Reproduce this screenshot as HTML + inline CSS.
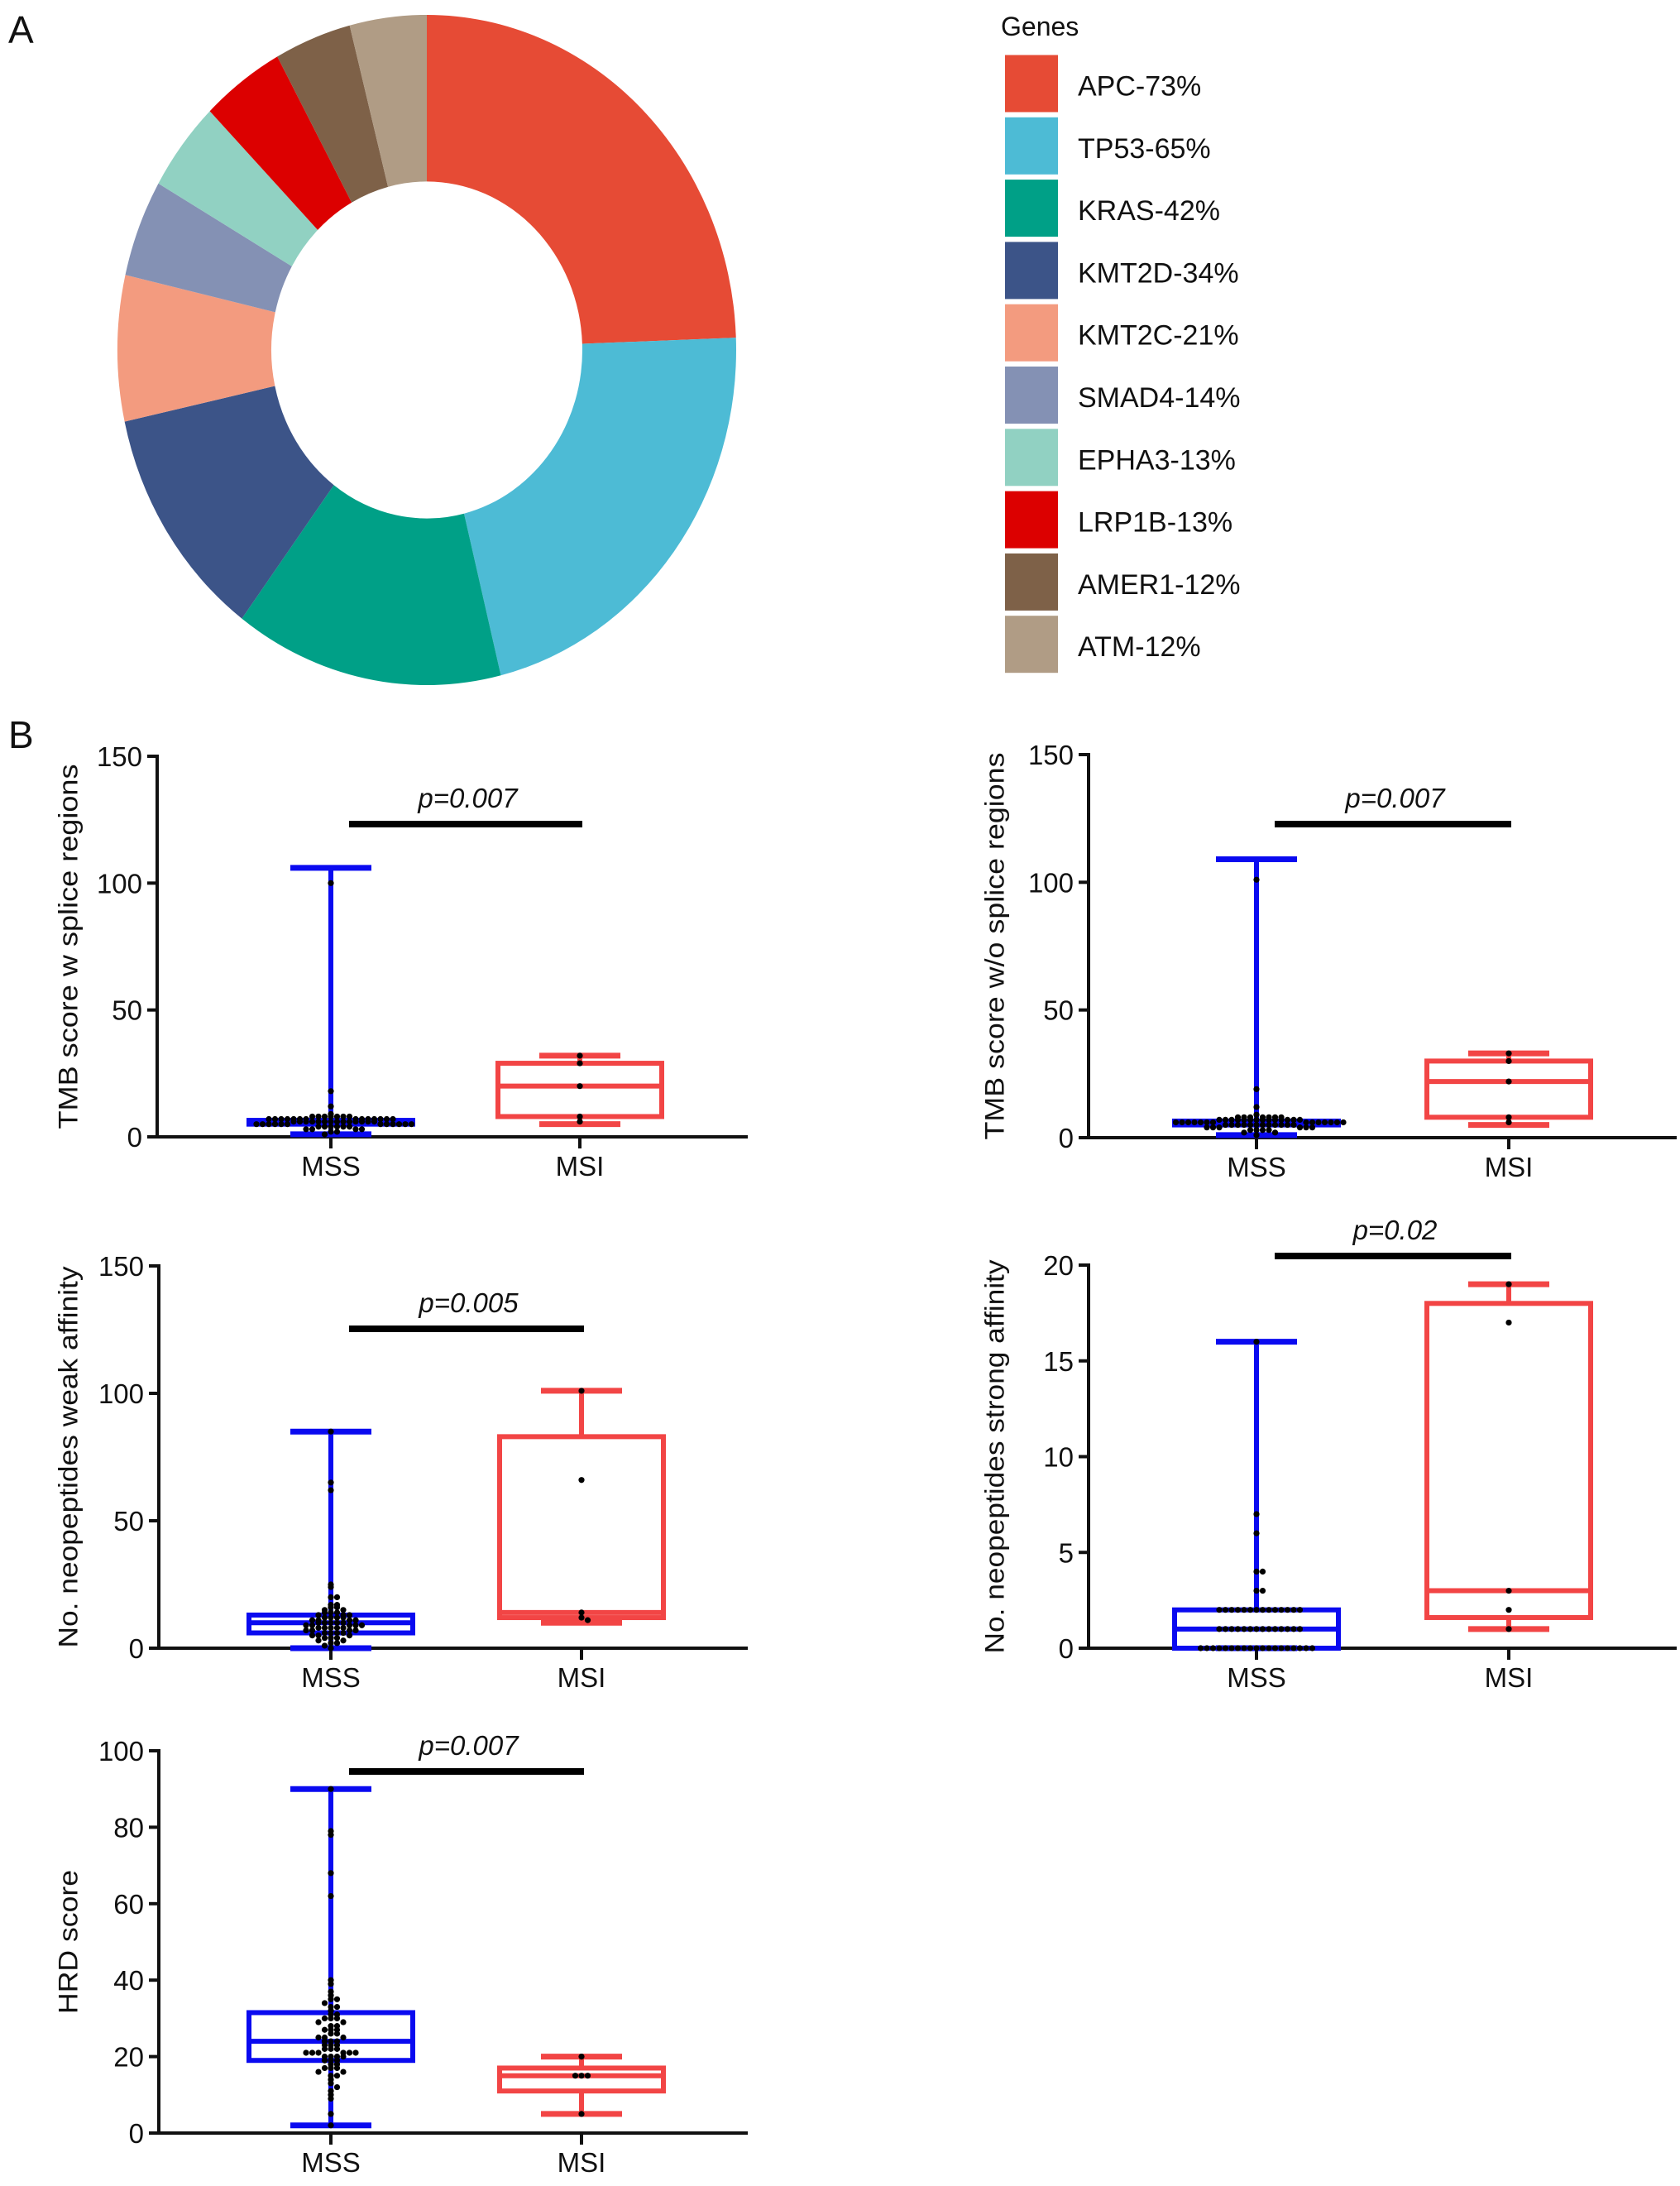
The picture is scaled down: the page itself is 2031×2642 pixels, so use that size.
<!DOCTYPE html>
<html><head><meta charset="utf-8"><style>
html,body{margin:0;padding:0;background:#fff}
svg{display:block}
text{font-family:"Liberation Sans",Arial,sans-serif;fill:#111}
</style></head><body>
<svg id="fig" width="2031" height="2642" viewBox="0 0 2031 2642" xmlns="http://www.w3.org/2000/svg">
<text x="10" y="52" font-size="46">A</text>
<text x="10" y="904" font-size="46">B</text>
<g id="donut"></g>
<g id="legend">
<text x="1210" y="43" font-size="32">Genes</text>
</g>
<g id="plots"></g>
</svg>
<script>
// ---------- Donut data ----------
const geneNames = ["APC","TP53","KRAS","KMT2D","KMT2C","SMAD4","EPHA3","LRP1B","AMER1","ATM"];
const genePct = [73,65,42,34,21,14,13,13,12,12];
const geneColors = ["#E64B35","#4DBBD5","#00A087","#3C5488","#F39B7F","#8491B4","#91D1C2","#DC0000","#7E6148","#B09C85"];

// ---------- Box plot data: [min, q1, median, q3, max] ----------
const tmbW_MSS_stats = [1, 5, 6, 6.5, 106];
const tmbW_MSI_stats = [5, 8, 20, 29, 32];
const tmbW_MSS_pts = [100,18,12,9,8,8,8,8,8,8,8,7,7,7,7,7,7,7,7,7,7,7,7,7,7,6,6,6,6,6,6,6,6,6,6,6,6,6,6,5,5,5,5,5,5,5,5,5,5,5,5,4,4,4,4,4,4,3,3,3,3,2,2,1];
const tmbW_MSI_pts = [32,29,20,8,6];

const tmbWo_MSS_stats = [1, 5, 6, 6.5, 109];
const tmbWo_MSI_stats = [5, 8, 22, 30, 33];
const tmbWo_MSS_pts = [101,19,12,9,8,8,8,8,8,8,8,7,7,7,7,7,7,7,7,7,7,7,7,7,7,6,6,6,6,6,6,6,6,6,6,6,6,6,6,5,5,5,5,5,5,5,5,5,5,5,5,4,4,4,4,4,4,3,3,3,3,2,2,1];
const tmbWo_MSI_pts = [33,30,22,8,6];

const weak_MSS_stats = [0, 6, 10, 13, 85];
const weak_MSI_stats = [10, 12, 14, 83, 101];
const weak_MSS_pts = [85,65,62,25,24,20,20,17,17,16,16,15,15,14,14,14,13,13,13,12,12,12,12,11,11,11,11,10,10,10,10,10,9,9,9,9,9,8,8,8,8,8,7,7,7,7,6,6,6,6,5,5,5,4,4,4,3,3,2,2,1,0];
const weak_MSI_pts = [101,66,14,12,11];

const strong_MSS_stats = [0, 0, 1, 2, 16];
const strong_MSI_stats = [1, 1.6, 3, 18, 19];
const strong_MSS_pts = [16,7,6,4,4,3,3,2,2,2,2,2,2,2,2,2,2,2,2,2,2,1,1,1,1,1,1,1,1,1,1,1,1,1,1,0,0,0,0,0,0,0,0,0,0,0,0,0,0,0,0,0,0,0];
const strong_MSI_pts = [19,17,3,2,1];

const hrd_MSS_stats = [2, 19, 24, 31.5, 90];
const hrd_MSI_stats = [5, 11, 15, 17, 20];
const hrd_MSS_pts = [90,79,78,68,62,40,39,37,36,35,35,34,33,33,32,31,31,30,30,30,29,29,28,28,27,27,27,26,26,25,25,25,24,24,24,23,23,23,22,22,22,21,21,21,21,21,21,20,20,20,20,19,19,19,18,18,17,17,17,16,16,15,15,14,13,12,11,10,9,5,2];
const hrd_MSI_pts = [20,15,15,15,5];

const groupLabels = ["MSS","MSI"];
const pLabels = ["p=0.007","p=0.007","p=0.005","p=0.02","p=0.007"];
const yTicks150 = [0,50,100,150];
const yTicks20 = [0,5,10,15,20];
const yTicks100 = [0,20,40,60,80,100];

const NS="http://www.w3.org/2000/svg";
function mk(tag, attrs, parent){const e=document.createElementNS(NS,tag);for(const k in attrs)e.setAttribute(k,attrs[k]);parent.appendChild(e);return e;}

// ---------- Donut ----------
(function(){
  const g=document.getElementById('donut');
  const cx=516, cy=423, R=374, r=188, sy=1.083;
  const inner=mk('g',{transform:`translate(${cx},${cy}) scale(1,${sy})`},g);
  const total=genePct.reduce((a,b)=>a+b,0);
  let a0=-Math.PI/2;
  genePct.forEach((v,i)=>{
    const a1=a0+v/total*2*Math.PI;
    const large=(a1-a0)>Math.PI?1:0;
    const p=`M${R*Math.cos(a0)},${R*Math.sin(a0)} A${R},${R} 0 ${large} 1 ${R*Math.cos(a1)},${R*Math.sin(a1)} L${r*Math.cos(a1)},${r*Math.sin(a1)} A${r},${r} 0 ${large} 0 ${r*Math.cos(a0)},${r*Math.sin(a0)} Z`;
    const s=mk('path',{d:p,fill:geneColors[i]},inner);
    
    
    a0=a1;
  });
  const lg=document.getElementById('legend');
  geneNames.forEach((n,i)=>{
    const top=66.5+i*75.3;
    const rc=mk('rect',{x:1215,y:top,width:64,height:69,fill:geneColors[i]},lg);
    
    
    const t=mk('text',{x:1303,y:top+49,'font-size':34},lg);
    t.textContent=n+'-'+genePct[i]+'%';
    
    
  });
})();

// ---------- Box plots ----------
const panels=[
 {ax:190,y0:1374,yTop:914,vmax:150,ticks:yTicks150,title:"TMB score w splice regions",tx:85,tlen:441,
  xE:904,gx:[400,701],stats:[tmbW_MSS_stats,tmbW_MSI_stats],pts:[tmbW_MSS_pts,tmbW_MSI_pts],p:pLabels[0],py:996,name:"tmb-w-splice"},
 {ax:1316,y0:1375,yTop:912,vmax:150,ticks:yTicks150,title:"TMB score w/o splice regions",tx:1205,tlen:468,
  xE:2027,gx:[1519,1824],stats:[tmbWo_MSS_stats,tmbWo_MSI_stats],pts:[tmbWo_MSS_pts,tmbWo_MSI_pts],p:pLabels[1],py:996,name:"tmb-wo-splice"},
 {ax:192,y0:1992,yTop:1530,vmax:150,ticks:yTicks150,title:"No. neopeptides weak affinity",tx:85,tlen:461,
  xE:904,gx:[400,703],stats:[weak_MSS_stats,weak_MSI_stats],pts:[weak_MSS_pts,weak_MSI_pts],p:pLabels[2],py:1606,name:"weak-affinity"},
 {ax:1316,y0:1992,yTop:1529,vmax:20,ticks:yTicks20,title:"No. neopeptides strong affinity",tx:1205,tlen:476,
  xE:2027,gx:[1519,1824],stats:[strong_MSS_stats,strong_MSI_stats],pts:[strong_MSS_pts,strong_MSI_pts],p:pLabels[3],py:1518,name:"strong-affinity"},
 {ax:192,y0:2578,yTop:2116,vmax:100,ticks:yTicks100,title:"HRD score",tx:85,tlen:174,
  xE:904,gx:[400,703],stats:[hrd_MSS_stats,hrd_MSI_stats],pts:[hrd_MSS_pts,hrd_MSI_pts],p:pLabels[4],py:2141,name:"hrd-score"}
];
const groupColors=["#0A0AF0","#F24545"];
const root=document.getElementById('plots');
panels.forEach(P=>{
  const g=mk('g',{},root);
  
  
  const Y=v=>P.y0-v/P.vmax*(P.y0-P.yTop);
  const ya=mk('line',{x1:P.ax,y1:P.yTop-2,x2:P.ax,y2:P.y0+2,stroke:'#111','stroke-width':4},g);
   
  const xa=mk('line',{x1:P.ax-12,y1:P.y0,x2:P.xE,y2:P.y0,stroke:'#111','stroke-width':4},g);
   
  P.ticks.forEach(t=>{
    mk('line',{x1:P.ax-12,y1:Y(t),x2:P.ax,y2:Y(t),stroke:'#111','stroke-width':4},g);
    const tl=mk('text',{x:P.ax-18,y:Y(t)+12,'font-size':33,'text-anchor':'end'},g);
    tl.textContent=t;
     
  });
  const yt=mk('text',{x:P.tx,y:(P.y0+P.yTop)/2,'font-size':32,'text-anchor':'middle',transform:`rotate(-90 ${P.tx} ${(P.y0+P.yTop)/2})`,'dominant-baseline':'middle',textLength:P.tlen,lengthAdjust:'spacingAndGlyphs'},g);
  yt.textContent=P.title;
   
  [0,1].forEach(k=>{
    const x=P.gx[k], s=P.stats[k], c=groupColors[k];
    mk('line',{x1:x,y1:P.y0,x2:x,y2:P.y0+14,stroke:'#111','stroke-width':4},g);
    const xl=mk('text',{x:x,y:P.y0+47,'font-size':33,'text-anchor':'middle'},g);
    xl.textContent=groupLabels[k];
     
    const bg=mk('g',{},g);
     
    mk('line',{x1:x,y1:Y(s[0]),x2:x,y2:Y(s[1]),stroke:c,'stroke-width':6},bg);
    mk('line',{x1:x,y1:Y(s[3]),x2:x,y2:Y(s[4]),stroke:c,'stroke-width':6},bg);
    mk('line',{x1:x-49,y1:Y(s[0]),x2:x+49,y2:Y(s[0]),stroke:c,'stroke-width':7},bg);
    mk('line',{x1:x-49,y1:Y(s[4]),x2:x+49,y2:Y(s[4]),stroke:c,'stroke-width':7},bg);
    const h=Math.max(Y(s[1])-Y(s[3]),1);
    mk('rect',{x:x-99,y:Y(s[3]),width:198,height:h,fill:'none',stroke:c,'stroke-width':6},bg);
    mk('line',{x1:x-99,y1:Y(s[2]),x2:x+99,y2:Y(s[2]),stroke:c,'stroke-width':6},bg);
    const bins={};
    P.pts[k].forEach(v=>{
      const py=Y(v); const b=Math.round(py/6);
      const n=bins[b]||0; bins[b]=n+1;
      const off=(n===0?0:(n%2?1:-1)*Math.ceil(n/2)*7.5);
      const d=mk('circle',{cx:x+off,cy:py,r:3.6,fill:'#000'},g);
       
    });
  });
  const pb=mk('line',{x1:P.gx[0]+22,y1:P.py,x2:P.gx[1]+3,y2:P.py,stroke:'#000','stroke-width':8},g);
   
  const pt=mk('text',{x:(P.gx[0]+P.gx[1])/2+15,y:P.py-20,'font-size':33,'font-style':'italic','text-anchor':'middle'},g);
  pt.textContent=P.p;
   
});
</script>
</body></html>
